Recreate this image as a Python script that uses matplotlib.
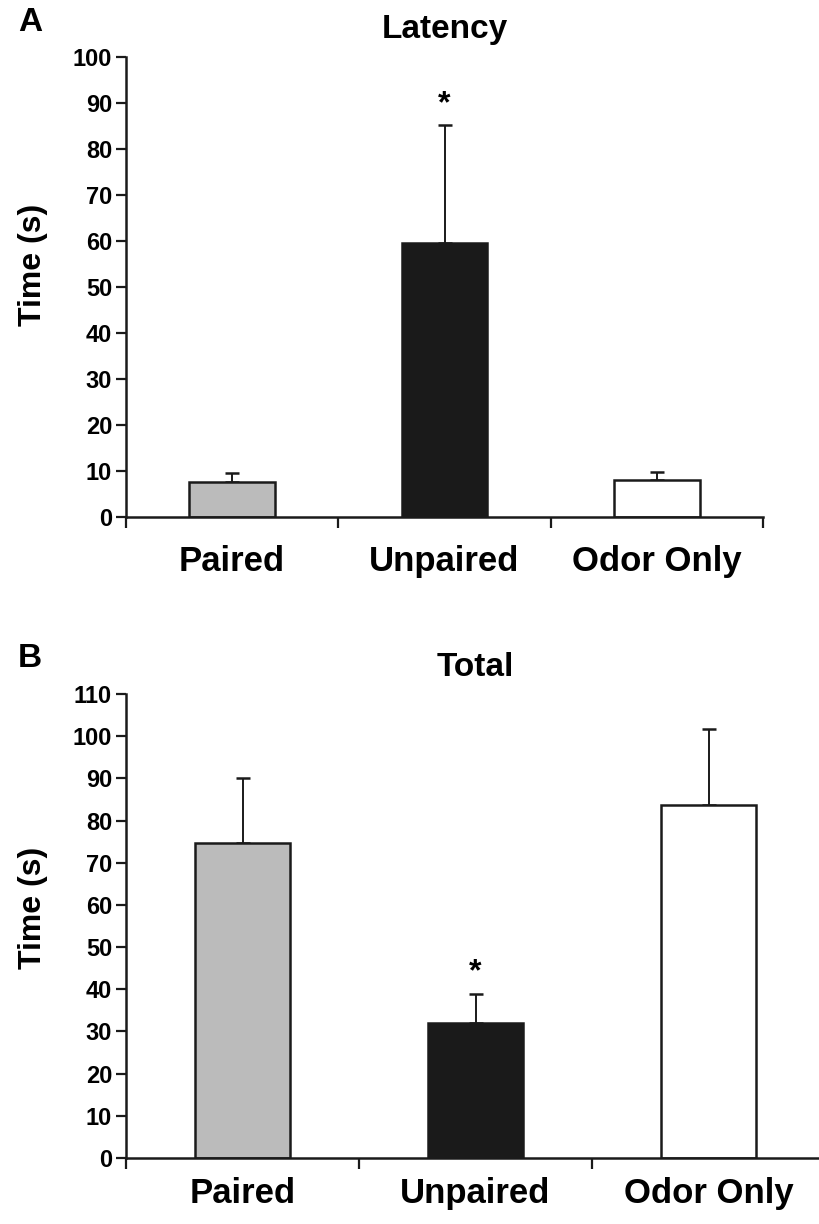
import numpy as np
import matplotlib
matplotlib.use("Agg")
import matplotlib.pyplot as plt

plt.rcParams['font.family'] = ['Liberation Sans', 'DejaVu Sans']
plt.rcParams['font.weight'] = 'bold'

groups = ["Paired", "Unpaired", "Odor Only"]
colors = ["#bbbbbb", "#1a1a1a", "#ffffff"]

latency = [7.7, 59.5, 8.0]
latency_err = [1.9, 25.8, 1.8]

total = [74.6, 32.1, 83.8]
total_err = [15.4, 6.7, 17.9]

fig = plt.figure(figsize=(8.19, 12.24), dpi=100)

def panel(rect, vals, errs, ymax, yticks, title, letter, letter_y, star_y, label_pad, ylab_xy, title_pad):
    ax = fig.add_axes(rect)
    x = np.arange(len(groups)) + 0.5
    ax.bar(x, vals, width=0.405, color=colors, edgecolor="#1a1a1a", linewidth=1.8, zorder=2)
    ax.errorbar(x, vals, yerr=[np.zeros(len(vals)), errs], fmt="none", ecolor="#1a1a1a",
                elinewidth=1.4, capsize=5, capthick=1.8, zorder=1)
    ax.set_xlim(0, 3)
    ax.set_ylim(0, ymax)
    ax.set_yticks(yticks)
    ax.set_yticklabels([str(t) for t in yticks], fontsize=17, fontweight="bold")
    ax.set_xticks([0, 1, 2, 3])
    ax.set_xticklabels([])
    ax.set_xticks(x, minor=True)
    ax.set_xticklabels(groups, minor=True, fontsize=25, fontweight="bold")
    ax.tick_params(axis="x", which="minor", length=0, pad=label_pad)
    ax.tick_params(axis="x", which="major", length=8, width=1.6, direction="out", color="#1a1a1a")
    ax.tick_params(axis="y", length=7, width=1.6, direction="out", color="#1a1a1a", pad=3)
    for s in ["top", "right"]:
        ax.spines[s].set_visible(False)
    for s in ["left", "bottom"]:
        ax.spines[s].set_linewidth(1.8)
        ax.spines[s].set_color("#1a1a1a")
    ax.set_ylabel("Time (s)", fontsize=23, fontweight="bold")
    ax.yaxis.set_label_coords(ylab_xy[0], ylab_xy[1])
    ax.set_title(title, fontsize=24, fontweight="bold", pad=title_pad)
    ax.text(1.5, star_y, "*", ha="center", va="center", fontsize=23, fontweight="bold")
    fig.text(18 / 819, 1 - letter_y / 1224, letter, fontsize=24,
             fontweight="bold", ha="left", va="bottom")
    return ax

panel([126 / 819, 1 - 517 / 1224, 637 / 819, 460 / 1224], latency, latency_err, 100,
      list(range(0, 101, 10)), "Latency", "A", 38, 89.8, 20, (-0.122, 0.548), 14)
panel([126 / 819, 1 - 1158 / 1224, 699 / 819, 464 / 1224], total, total_err, 110,
      list(range(0, 111, 10)), "Total", "B", 674, 44, 14, (-0.111, 0.539), 13)

fig.savefig("out.png", dpi=100)
